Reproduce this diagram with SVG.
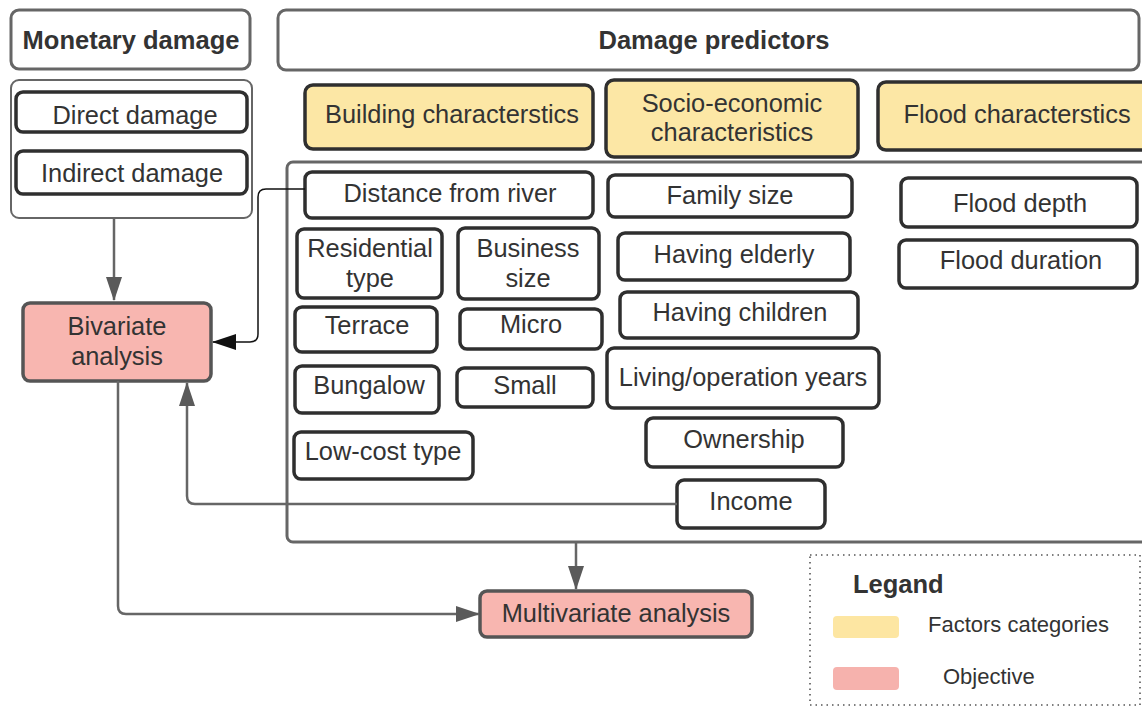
<svg xmlns="http://www.w3.org/2000/svg" width="1142" height="707" viewBox="0 0 1142 707">
<defs>
<style>
text{font-family:"Liberation Sans",Arial,sans-serif;fill:#333;font-size:25.4px;text-anchor:middle}
.b{font-weight:bold;font-size:25.5px}
.grp{fill:#fff;stroke:#666;stroke-width:3}
.grp2{fill:#fff;stroke:#666;stroke-width:2}
.n{fill:#fff;stroke:#2f2f2f;stroke-width:3.5}
.y{fill:#fce7a5;stroke:#2f2f2f;stroke-width:3.5}
.p{fill:#f8b6b0;stroke:#555;stroke-width:3.5}
.c{fill:none;stroke:#666;stroke-width:2.5}
.k{fill:none;stroke:#111;stroke-width:1.5}
.lg{font-size:22px;text-anchor:start}
</style>
<marker id="agl" viewBox="0 0 24 16" refX="23" refY="8" markerWidth="24" markerHeight="16" orient="auto" markerUnits="userSpaceOnUse">
<path d="M0,0 L24,8 L0,16 Z" fill="#5a5a5a"/>
</marker>
<marker id="akl" viewBox="0 0 24 16" refX="23" refY="8" markerWidth="24" markerHeight="16" orient="auto" markerUnits="userSpaceOnUse">
<path d="M0,0 L24,8 L0,16 Z" fill="#111"/>
</marker>
</defs>
<rect width="1142" height="707" fill="#fff"/>

<g id="monetary-damage"><rect class="grp" x="11" y="10" width="239" height="59" rx="8"/><text class="b" x="131" y="49">Monetary damage</text></g>
<g id="damage-predictors"><rect class="grp" x="278" y="10" width="861" height="60" rx="8"/><text class="b" x="714" y="49">Damage predictors</text></g>
<g id="damage-group"><rect class="grp2" x="11" y="80" width="241" height="138" rx="8"/></g>
<g id="direct-damage"><rect class="n" x="16" y="92" width="231" height="40" rx="7"/><text x="135" y="124">Direct damage</text></g>
<g id="indirect-damage"><rect class="n" x="16" y="151" width="231" height="43" rx="7"/><text x="132" y="182">Indirect damage</text></g>

<g id="building"><rect class="y" x="305" y="85" width="288" height="64" rx="8"/><text x="452" y="123">Building characterstics</text></g>
<g id="socio"><rect class="y" x="606" y="80" width="252" height="77" rx="8"/><text x="732" y="112">Socio-economic</text><text x="732" y="141">characteristics</text></g>
<g id="flood"><rect class="y" x="878" y="82" width="290" height="68" rx="8"/><text x="1017" y="123">Flood characterstics</text></g>

<g id="predictors-group"><rect class="grp" x="287" y="162" width="880" height="380" rx="6"/></g>

<g id="distance"><rect class="n" x="305" y="172" width="288" height="46" rx="7"/><text x="450" y="202">Distance from river</text></g>
<g id="residential"><rect class="n" x="297" y="229" width="145" height="69" rx="7"/><text x="370" y="257">Residential</text><text x="370" y="287">type</text></g>
<g id="business"><rect class="n" x="458" y="228" width="141" height="71" rx="7"/><text x="528" y="257">Business</text><text x="528" y="287">size</text></g>
<g id="terrace"><rect class="n" x="295" y="307" width="142" height="45" rx="7"/><text x="367" y="334">Terrace</text></g>
<g id="micro"><rect class="n" x="460" y="309" width="142" height="40" rx="7"/><text x="531" y="333">Micro</text></g>
<g id="bungalow"><rect class="n" x="295" y="366" width="144" height="47" rx="7"/><text x="369" y="394">Bungalow</text></g>
<g id="small"><rect class="n" x="457" y="368" width="136" height="39" rx="7"/><text x="525" y="394">Small</text></g>
<g id="low-cost"><rect class="n" x="294" y="432" width="179" height="47" rx="7"/><text x="383" y="460">Low-cost type</text></g>

<g id="family-size"><rect class="n" x="608" y="175" width="244" height="42" rx="7"/><text x="730" y="204">Family size</text></g>
<g id="elderly"><rect class="n" x="618" y="233" width="232" height="47" rx="7"/><text x="734" y="263">Having elderly</text></g>
<g id="children"><rect class="n" x="620" y="292" width="238" height="46" rx="7"/><text x="740" y="321">Having children</text></g>
<g id="living"><rect class="n" x="607" y="348" width="272" height="60" rx="7"/><text x="743" y="386">Living/operation years</text></g>
<g id="ownership"><rect class="n" x="646" y="418" width="197" height="49" rx="7"/><text x="744" y="448">Ownership</text></g>
<g id="income"><rect class="n" x="677" y="480" width="148" height="48" rx="7"/><text x="751" y="510">Income</text></g>

<g id="flood-depth"><rect class="n" x="901" y="178" width="236" height="49" rx="7"/><text x="1020" y="212">Flood depth</text></g>
<g id="flood-duration"><rect class="n" x="899" y="240" width="238" height="48" rx="7"/><text x="1021" y="269">Flood duration</text></g>

<g id="bivariate"><rect class="p" x="23" y="303" width="188" height="78" rx="7"/><text x="117" y="335">Bivariate</text><text x="117" y="365">analysis</text></g>
<g id="multivariate"><rect class="p" x="480" y="591" width="272" height="46" rx="7"/><text x="616" y="622">Multivariate analysis</text></g>

<g id="connectors">
<path class="c" d="M114,218 V300" marker-end="url(#agl)"/>
<path class="k" d="M305,189 H266 Q258,189 258,197 V334 Q258,342 250,342 H213" marker-end="url(#akl)"/>
<path class="c" d="M677,504 H195 Q187,504 187,496 V383" marker-end="url(#agl)"/>
<path class="c" d="M118,381 V606 Q118,614 126,614 H479" marker-end="url(#agl)"/>
<path class="c" d="M576,542 V589" marker-end="url(#agl)"/>
</g>

<g id="legend">
<rect x="810" y="555" width="330" height="150" fill="none" stroke="#555" stroke-width="1.6" stroke-dasharray="1.5,4"/>
<text class="b" x="853" y="593" style="text-anchor:start">Legand</text>
<rect x="833" y="616" width="66" height="22" rx="4" fill="#fde6a2"/>
<text class="lg" x="928" y="632">Factors categories</text>
<rect x="833" y="667" width="66" height="23" rx="4" fill="#f6b2ad"/>
<text class="lg" x="943" y="684">Objective</text>
</g>
</svg>
